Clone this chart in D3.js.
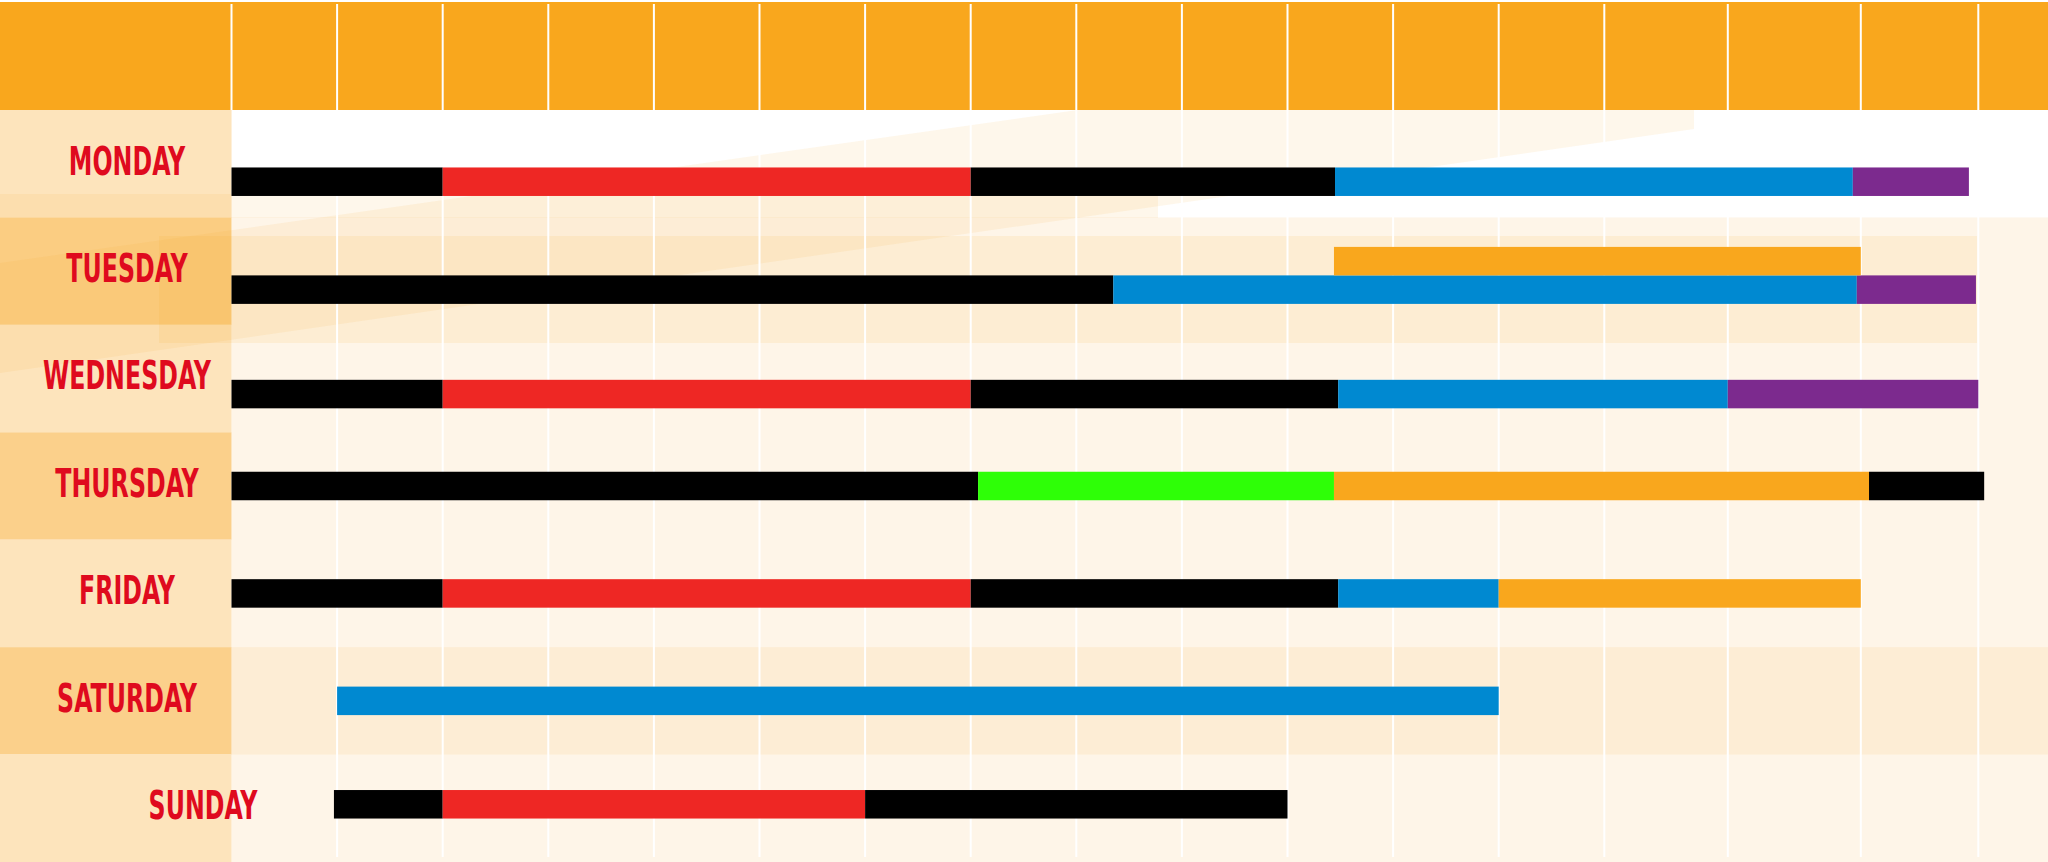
<!DOCTYPE html>
<html>
<head>
<meta charset="utf-8">
<script src="https://cdn.jsdelivr.net/npm/d3@7"></script>
<style>
  html, body { margin: 0; padding: 0; background: #fff; }
  svg { display: block; }
</style>
</head>
<body>
<svg id="chart"></svg>
<script>
// data

const days = ['MONDAY', 'TUESDAY', 'WEDNESDAY', 'THURSDAY', 'FRIDAY', 'SATURDAY', 'SUNDAY']
const hours = [7, 8, 9, 10, 11, 12, 13, 14, 15, 16, 17, 18, 19, 20, 21, 22, 23]   // column boundaries

// [start hour, end hour, activity]
const monday    = [[7, 9, 'A'], [9, 14, 'B'], [14, 17.45, 'A'], [17.45, 21.94, 'C'], [21.94, 22.92, 'D']]
const tuesday   = [[7, 15.35, 'A'], [15.35, 21.97, 'C'], [21.97, 22.98, 'D']]
const tuesdayUpper = [[17.44, 22, 'E']]
const wednesday = [[7, 9, 'A'], [9, 14, 'B'], [14, 17.48, 'A'], [17.48, 21, 'C'], [21, 23, 'D']]
const thursday  = [[7, 14.07, 'A'], [14.07, 17.44, 'F'], [17.44, 22.07, 'E'], [22.07, 23.05, 'A']]
const friday    = [[7, 9, 'A'], [9, 14, 'B'], [14, 17.48, 'A'], [17.48, 19, 'C'], [19, 22, 'E']]
const saturday  = [[8, 19, 'C']]
const sunday    = [[7.97, 9, 'A'], [9, 13, 'B'], [13, 17, 'A']]

const activities = ['A', 'B', 'C', 'D', 'E', 'F']

// layout

const W = 2048, H = 862
const HEADER_TOP = 2, HEADER_BOTTOM = 110
const LEFT = 231.5
const COL_W = [105.6, 105.6, 105.6, 105.6, 105.6, 105.6, 105.6, 105.6, 105.6, 105.6, 105.6, 105.6, 105.6, 123.5, 133, 117.5]
const BAR_H = 28.5
const BAR_SHIFT = [18, 18.5, 15.5, 0, 0, 0, -4]      // bars sit a bit low in the top rows

const ORANGE = '#F9A71D'
const CREAM = '#FEF5E8'

let edges = COL_W.reduce((acc, w) => { acc.push(acc[acc.length - 1] + w); return acc }, [LEFT])

let x = d3.scaleLinear().domain(hours).range(edges)
let y = d3.scaleBand().domain(days).range([HEADER_BOTTOM, H])

let color = d3.scaleOrdinal()
  .domain(activities)
  .range(['#000000', '#EE2724', '#0089D1', '#7C2A8E', ORANGE, '#2EFF07'])

let segments = []
;[monday, tuesday, wednesday, thursday, friday, saturday, sunday].forEach((list, i) => {
  list.forEach((s) => segments.push({ day: days[i], di: i, start: s[0], end: s[1], act: s[2], track: 0 }))
})
tuesdayUpper.forEach((s) => segments.push({ day: days[1], di: 1, start: s[0], end: s[1], act: s[2], track: 1 }))

let svg = d3.select('#chart').attr('width', W).attr('height', H)

svg.append('defs').append('clipPath').attr('id', 'body-clip')
  .append('rect').attr('x', 0).attr('y', HEADER_BOTTOM).attr('width', W).attr('height', H - HEADER_BOTTOM)

svg.append('rect').attr('width', W).attr('height', H).attr('fill', '#fff')

// header band
svg.append('rect')
  .attr('x', 0).attr('y', HEADER_TOP)
  .attr('width', W).attr('height', HEADER_BOTTOM - HEADER_TOP)
  .attr('fill', ORANGE)

// body background
svg.append('rect')
  .attr('x', LEFT).attr('y', HEADER_BOTTOM)
  .attr('width', W - LEFT).attr('height', H - HEADER_BOTTOM)
  .attr('fill', CREAM)

svg.append('rect')
  .attr('x', LEFT).attr('y', y('SATURDAY'))
  .attr('width', W - LEFT).attr('height', y.bandwidth())
  .attr('fill', '#FDEDD5')

svg.append('rect')
  .attr('x', LEFT).attr('y', y('MONDAY'))
  .attr('width', W - LEFT).attr('height', y.bandwidth())
  .attr('fill', '#fff')

// left column cells
let cellFill = ['#FDE4BC', '#FBCD82', '#FDE4BC', '#FBD08B', '#FDE4BC', '#FBD08B', '#FDE4BC']
svg.append('g').selectAll('rect')
  .data(days)
  .join('rect')
    .attr('x', 0).attr('y', (d) => y(d))
    .attr('width', LEFT).attr('height', y.bandwidth())
    .attr('fill', (d, i) => cellFill[i])

// translucent decorative layers of the original artwork
let deco = svg.append('g').attr('clip-path', 'url(#body-clip)').attr('fill', ORANGE)
deco.append('rect')
  .attr('x', 0).attr('y', 194).attr('width', 1158).attr('height', 24)
  .attr('fill-opacity', 0.09)
deco.append('rect')
  .attr('x', 159).attr('y', 236).attr('width', 1977 - 159).attr('height', 107)
  .attr('fill-opacity', 0.1)
deco.append('polygon')
  .attr('points', [[0, 263], [1694, 22.5], [1694, 129], [0, 373]].join(' '))
  .attr('fill-opacity', 0.09)

// grid lines
svg.append('g').selectAll('line')
  .data(hours)
  .join('line')
    .attr('x1', (d) => x(d)).attr('x2', (d) => x(d))
    .attr('y1', 4)
    .attr('y2', (d, i) => i === 0 ? HEADER_BOTTOM : H - 5)
    .attr('stroke', '#fff')
    .attr('stroke-width', 2)

// bars
svg.append('g').selectAll('rect')
  .data(segments)
  .join('rect')
    .attr('x', (d) => x(d.start))
    .attr('y', (d) => y(d.day) + y.bandwidth() / 2 + BAR_SHIFT[d.di] - BAR_H / 2 - d.track * BAR_H)
    .attr('width', (d) => x(d.end) - x(d.start))
    .attr('height', BAR_H)
    .attr('fill', (d) => color(d.act))

// day labels
let labels = svg.append('g')
  .attr('font-family', "'Liberation Sans Narrow', 'DejaVu Sans Condensed', 'Liberation Sans', sans-serif")
  .attr('font-weight', 'bold')
  .attr('font-size', 38.5)
  .attr('fill', '#DF0A1E')
  .attr('text-anchor', 'middle')
  .selectAll('text')
  .data(days)
  .join('text')
    .attr('dy', '0.36em')
    .text((d) => d)

// squeeze the glyphs to the width of the poster lettering
let wed = labels.filter((d) => d === 'WEDNESDAY').node().getComputedTextLength()
let sx = 168 / wed
labels.attr('transform', (d) => {
  let cx = d === 'SUNDAY' ? 203 : 127
  let cy = y(d) + y.bandwidth() / 2 - 3
  return 'translate(' + [cx, cy] + ') scale(' + sx + ',1)'
})
</script>
</body>
</html>
